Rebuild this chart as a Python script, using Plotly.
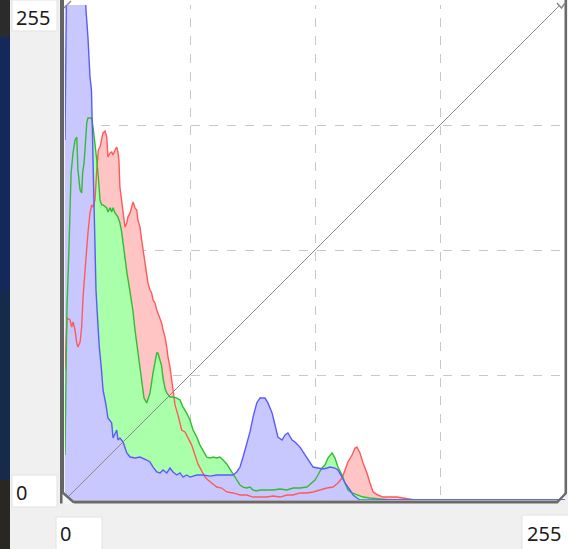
import plotly.graph_objects as go

W, H = 568, 549

# ---------------- data (levels 0..255, histogram height scaled 0..255) ----------------
blue_x = [0, 0.8, 10.2, 10.7, 11.7, 12.75, 13.5, 13.8, 14.5, 14.8, 15.3, 15.8, 16.6, 17.5, 18.7, 19.4,
          20.9, 21.9, 23.8, 24.5, 26.4, 27, 28, 29.6, 31.5, 33.2, 35.7, 38.25, 41.7, 43.35, 44.9, 46.8,
          48.45, 50, 51.9, 53.55, 55.1, 57, 58.65, 60.2, 62, 63.75, 67.2, 70.4, 74, 77.4, 82.5, 85.7,
          87.6, 89.25, 90.8, 92.7, 94.35, 95.9, 97.8, 99.45, 102, 103.5, 105.6, 107.1, 108.6, 110.7,
          112.2, 113.7, 115.8, 117.3, 119.85, 121.4, 123.9, 126.5, 129, 131.6, 133.6, 135.15, 137.7,
          139.2, 141.3, 142.8, 145.35, 146.9, 148.9, 150.45, 255]
blue_y = [183.6, 265, 265, 250, 236, 215.7, 209, 195.3, 173.4, 153, 127.5, 107.1, 92.8, 78, 65.3, 56.1,
          48.5, 41.8, 39.3, 31.6, 35.7, 30.6, 31.6, 29.6, 24, 21.9, 21.4, 21.9, 20.4, 19.4, 16.8, 14.3,
          13.8, 15.3, 13.8, 16.3, 14.3, 12.75, 13.8, 11.7, 12.75, 11.7, 12.75, 12.75, 12.2, 12.75, 12.75, 12.75,
          14.3, 16.8, 21.9, 29, 34.7, 42.3, 49.5, 52, 52, 49.5, 44.4, 38.25, 32.1, 30.6,
          33.15, 34.2, 30.6, 29.6, 27, 24.5, 20.4, 16.8, 16.3, 15.8, 16.3, 16.8, 16.3,
          15.3, 11.7, 8.7, 5.1, 2.55, 1, 0, 0]

green_x = [0, 1, 2, 3.1, 4.1, 5.1, 6, 6.4, 6.6, 7.7, 8.5, 9, 9.7, 10.2, 11.1, 11.7, 13.6, 14.3, 15.3,
           16.2, 17, 17.85, 18.7, 19.4, 21.3, 21.9, 23, 23.8, 24.5, 25.5, 27, 28, 28.9, 29.6, 30.6,
           31.6, 33.2, 34.7, 35.7, 37.2, 38.25, 39.3, 40.3, 41.7, 43.35, 44.9, 45.9, 46.8, 47.4, 48.45,
           49.3, 50, 51, 51.9, 53.55, 55.1, 57, 58.65, 60.2, 62, 63.75, 65.3, 67.2, 68.85, 70.4, 72.3,
           74, 75.5, 77.4, 79, 80.6, 82.5, 84.15, 85.7, 87.6, 89.25, 90.8, 92.7, 94.35, 95.9, 97.8,
           99.45, 103, 106.1, 109.65, 113.2, 116.3, 119.85, 123.4, 126, 127.5, 129, 131, 132.6, 134.1,
           136.2, 137.7, 139.2, 141.3, 142.8, 144.3, 146.4, 148.9, 152, 155.55, 160.7, 165.75, 255]
green_y = [23, 97.9, 127.5, 166.8, 177, 183.6, 185.1, 175, 168.3, 158.1, 156.6, 166.8, 171.9, 178.5, 192.3,
           194.8, 194.8, 190.2, 182, 173.4, 164.7, 153, 150.5, 150.5, 149, 146.9, 149, 146.9, 149, 146.4,
           144.3, 141.3, 136.7, 131, 124, 115.8, 106, 96, 86.7, 75.5, 67.8, 58.6, 52, 49.5, 54.6, 64.8,
           71.4, 75, 75, 71.4, 68.3, 62.2, 57, 54.6, 52.5, 52.5, 52, 51, 47.4, 44.4, 40.8, 35.7, 32.1,
           28, 25.5, 21.9, 21.4, 21.9, 21.4, 21.9, 20.4, 18.4, 15.8, 13.3, 10.2, 7.65, 6.6, 6.1, 6.6,
           5.1, 4.6, 5.1, 5.1, 5.1, 5.6, 5.1, 6.1, 6.1, 6.6, 8.7, 10.2, 12.75, 16.3, 17.85, 21.4, 24,
           21.4, 16.8, 12.75, 8.7, 5.1, 3.6, 2.55, 1.5, 1, 0.5, 0, 0]

red_x = [0, 1, 2.6, 3.4, 4.1, 5.1, 6, 6.6, 7.7, 8.5, 9.2, 10.2, 11.1, 11.7, 12.75, 13.6, 14.3, 15.3,
         16.2, 17, 17.85, 18.7, 19.4, 20.4, 21.3, 21.9, 23, 23.8, 24.5, 25.5, 26.4, 27, 27.5, 28, 28.9,
         29.6, 30.6, 31.5, 32.1, 33.2, 34.7, 35.7, 36.6, 37.2, 38.25, 39.1, 39.8, 40.8, 41.7, 42.3,
         43.35, 44.2, 44.9, 45.9, 46.8, 47.4, 48.45, 49.3, 50, 51, 51.9, 52.5, 53.55, 54.4, 55.1, 56.1,
         57.6, 59.5, 61.2, 62.7, 64.6, 66.3, 67.8, 69.7, 71.4, 72.9, 74.8, 77.4, 79.9, 82.5, 85.7,
         89.25, 92.8, 95.9, 99.45, 103, 106.1, 109.65, 113.2, 116.3, 119.85, 123.4, 126.5, 130, 133.6,
         136.7, 139.2, 141.3, 142.8, 144.3, 146.4, 147.9, 148.9, 150.45, 152, 154, 155.55, 157.1,
         159.6, 162.2, 165.75, 169.3, 172.4, 176, 178.5, 255]
red_y = [66.3, 92.8, 91.8, 88.2, 90.8, 86.7, 80, 78, 80.6, 88.2, 103.5, 117.3, 127.5, 136.2, 146.4, 150.5,
         149.4, 153, 168.3, 178.5, 180, 183.6, 187.2, 188.2, 185.1, 175, 177, 177.5, 176, 178.5, 180,
         177.5, 173.4, 159.6, 153, 146.4, 139.2, 141.3, 144.3, 146.4, 152, 149, 147.9, 142.8, 139.2,
         132.6, 127.5, 120.9, 115.8, 110.7, 107.1, 105.6, 102, 100.5, 96.9, 95.4, 91.8, 90.3, 86.7,
         83.1, 78, 73, 67.8, 61.2, 55.1, 48.5, 43.4, 35.7, 34.7, 31.6, 28, 23, 18.4, 14.8, 11.7, 10.2,
         8.7, 6.6, 6.1, 4.1, 3.6, 2.55, 2.55, 1.5, 1.5, 1.5, 2, 1.5, 2.55, 2.55, 3.6, 3.6, 4.1, 5.1,
         6.1, 6.6, 8.7, 11.2, 15.3, 19.4, 22.95, 26.5, 27, 24, 18.9, 13.8, 8.7, 4.1, 2.55, 1.5, 1.5,
         1.5, 1, 0.5, 0, 0]

curve_x = [0, 255]
curve_y = [0, 255]

label_top = "255"
label_bottom = "0"
label_in_min = "0"
label_in_max = "255"

# ---------------- helpers for layout positions ----------------
def px(x):
    return x / W

def py(y):
    return 1 - y / H

fig = go.Figure()

# fills: painted opaque in order red, green, blue
for xs, ys, fc in [(red_x, red_y, "#ffc4c4"), (green_x, green_y, "#aaffaa"), (blue_x, blue_y, "#c8c8ff")]:
    fig.add_trace(go.Scatter(x=xs, y=ys, mode="none", fill="tozeroy", fillcolor=fc,
                             hoverinfo="skip", showlegend=False))
# outlines on top
for xs, ys, lc in [(red_x, red_y, "#ff5a5a"), (green_x, green_y, "#33bb33"), (blue_x, blue_y, "#5a5aff")]:
    fig.add_trace(go.Scatter(x=xs, y=ys, mode="lines", line=dict(color=lc, width=1.4),
                             hoverinfo="skip", showlegend=False))
# identity curve
fig.add_trace(go.Scatter(x=curve_x, y=curve_y, mode="lines", line=dict(color="#8a8a8a", width=1),
                         hoverinfo="skip", showlegend=False))

axis_common = dict(range=[0, 255], showticklabels=False, ticks="", zeroline=False, showline=False,
                   showgrid=True, gridcolor="#c8c8c8", gridwidth=1, griddash="dash",
                   tick0=0, dtick=63.75, fixedrange=True)

shapes = []
# desktop strip at far left
shapes += [
    dict(type="rect", xref="paper", yref="paper", x0=px(0), x1=px(10), y0=py(0), y1=py(37),
         fillcolor="#2b2b2b", line=dict(width=0), layer="above"),
    dict(type="rect", xref="paper", yref="paper", x0=px(0), x1=px(10), y0=py(37), y1=py(290),
         fillcolor="#14295a", line=dict(width=0), layer="above"),
    dict(type="rect", xref="paper", yref="paper", x0=px(0), x1=px(10), y0=py(290), y1=py(480),
         fillcolor="#172a4c", line=dict(width=0), layer="above"),
    dict(type="rect", xref="paper", yref="paper", x0=px(0), x1=px(10), y0=py(480), y1=py(549),
         fillcolor="#2a2622", line=dict(width=0), layer="above"),
]
# white strip at very top of plot (clip region)
shapes.append(dict(type="rect", xref="paper", yref="paper", x0=px(64), x1=px(566), y0=py(0), y1=py(5),
                   fillcolor="white", line=dict(width=0), layer="above"))
# frame: left bar, bottom bar, right bar
shapes += [
    dict(type="rect", xref="paper", yref="paper", x0=px(60), x1=px(64), y0=py(0), y1=py(493),
         fillcolor="#646464", line=dict(width=0), layer="above"),
    dict(type="rect", xref="paper", yref="paper", x0=px(74), x1=px(558), y0=py(500.5), y1=py(503.5),
         fillcolor="#6a6a6a", line=dict(width=0), layer="above"),
    dict(type="rect", xref="paper", yref="paper", x0=px(564.5), x1=px(567), y0=py(0), y1=py(494),
         fillcolor="#6a6a6a", line=dict(width=0), layer="above"),
    # bottom-left chamfer
    dict(type="path", xref="paper", yref="paper",
         path=f"M {px(60)},{py(493)} L {px(64)},{py(493)} L {px(74)},{py(503.5)} L {px(60)},{py(503.5)} Z",
         fillcolor="#f5f5f5", line=dict(width=0), layer="above"),
    dict(type="line", xref="paper", yref="paper", x0=px(62), y0=py(492), x1=px(74), y1=py(502.5),
         line=dict(color="#6a6a6a", width=2.5), layer="above"),
    dict(type="rect", xref="paper", yref="paper", x0=px(60), x1=px(62.5), y0=py(492), y1=py(503.5),
         fillcolor="#646464", line=dict(width=0), layer="above"),
    # bottom-right chamfer
    dict(type="line", xref="paper", yref="paper", x0=px(557), y0=py(502.5), x1=px(566), y1=py(493),
         line=dict(color="#6a6a6a", width=2.5), layer="above"),
    # top-left marker
    dict(type="line", xref="paper", yref="paper", x0=px(64), y0=py(8), x1=px(71), y1=py(1),
         line=dict(color="#8a8a8a", width=1.5), layer="above"),
    # top-right marker
    dict(type="path", xref="paper", yref="paper",
         path=f"M {px(557)},{py(3)} L {px(561.5)},{py(8)} L {px(565)},{py(3)}",
         line=dict(color="#8a8a8a", width=1.5), layer="above"),
]
# text boxes
boxes = [(12, 0, 57, 31), (12, 475, 57, 507), (56, 517, 102, 552), (522, 515, 570, 552)]
for x0, y0, x1, y1 in boxes:
    shapes.append(dict(type="rect", xref="paper", yref="paper", x0=px(x0), x1=px(x1), y0=py(y0), y1=py(y1),
                       fillcolor="white", line=dict(color="#e2e2e2", width=1), layer="above"))

font = dict(family="Noto Sans, Open Sans, DejaVu Sans", size=20, color="#1c1c1c")
annotations = [
    dict(text=label_top, x=px(14), y=py(17), xref="paper", yref="paper", xanchor="left", yanchor="middle",
         showarrow=False, font=font),
    dict(text=label_bottom, x=px(14), y=py(492), xref="paper", yref="paper", xanchor="left", yanchor="middle",
         showarrow=False, font=font),
    dict(text=label_in_min, x=px(58), y=py(533), xref="paper", yref="paper", xanchor="left", yanchor="middle",
         showarrow=False, font=font),
    dict(text=label_in_max, x=px(525), y=py(533), xref="paper", yref="paper", xanchor="left", yanchor="middle",
         showarrow=False, font=font),
]

fig.update_layout(
    width=W, height=H, margin=dict(l=0, r=0, t=0, b=0),
    paper_bgcolor="#f0f0f0", plot_bgcolor="white",
    xaxis=dict(domain=[px(65), px(565)], **axis_common),
    yaxis=dict(domain=[py(500), py(0)], **axis_common),
    shapes=shapes, annotations=annotations, showlegend=False,
)

fig.write_html("out.html", config={"displayModeBar": False})

# remove the browser's default page margin so the figure sits at (0, 0)
with open("out.html", "r", encoding="utf-8") as f:
    html = f.read()
html = html.replace("<head>", "<head><style>html,body{margin:0;padding:0;overflow:hidden;}</style>", 1)
with open("out.html", "w", encoding="utf-8") as f:
    f.write(html)
